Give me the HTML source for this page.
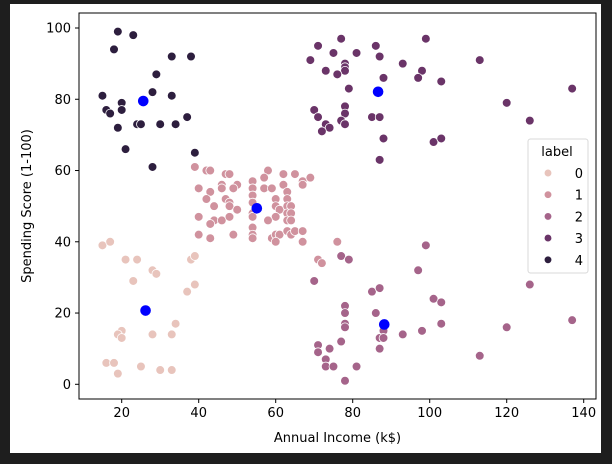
<!DOCTYPE html>
<html><head><meta charset="utf-8"><style>
html,body{margin:0;padding:0;background:#1e1e1e;}
#wrap{position:absolute;left:0;top:0;width:612px;height:459px;background:#1e1e1e;}
svg text{font-family:"DejaVu Sans","Liberation Sans",sans-serif;fill:#000;}
</style></head><body>
<div id="wrap">
<svg id="chart" width="612" height="459"></svg>
</div>
<script>
const incomes = [
/*4*/19,23,18,33,38,29,28,33,15,20,20,16,17,19,24,25,30,34,37,21,39,28,
/*0*/15,17,21,24,28,29,23,38,39,37,39,34,20,19,20,28,33,16,18,19,25,30,33,
/*3*/77,71,86,99,75,81,87,69,113,93,78,78,78,73,76,98,97,103,88,79,70,78,78,71,85,87,77,78,73,74,72,88,101,103,87,137,120,126,
/*2*/99,77,79,97,70,85,87,101,103,78,78,86,78,78,103,88,87,88,93,98,77,71,71,74,87,73,73,75,81,78,113,126,120,137,
/*1*/39,42,43,47,48,58,62,65,67,69,57,54,46,50,40,43,46,49,54,54,54,54,54,54,54,57,59,62,63,67,42,47,48,44,48,50,60,63,60,61,63,64,63,64,60,40,44,43,46,48,58,63,64,40,43,49,59,60,61,63,64,65,67,60,67,76,71,72,54];
const scores = [
99,98,94,92,92,87,82,81,81,79,77,77,76,72,73,73,73,73,75,66,65,61,
39,40,35,35,32,31,29,35,36,26,28,17,15,14,13,14,14,6,6,3,5,4,4,
97,95,95,97,93,93,92,91,91,90,90,89,88,88,87,88,86,85,86,83,77,78,76,75,75,75,74,73,73,72,71,69,68,69,63,83,79,74,
39,36,35,32,29,26,27,24,23,22,20,20,17,16,17,15,13,13,14,15,12,11,9,10,10,7,5,5,5,1,8,28,16,18,
61,60,60,59,59,60,59,59,57,58,58,57,56,56,55,54,55,55,55,53,51,48,47,44,42,55,55,56,54,56,52,52,51,50,50,49,52,52,50,49,50,50,48,48,47,47,46,45,46,47,46,46,46,42,41,42,41,42,42,43,42,43,43,40,40,40,35,34,41];
const labels = [
4,4,4,4,4,4,4,4,4,4,4,4,4,4,4,4,4,4,4,4,4,4,
0,0,0,0,0,0,0,0,0,0,0,0,0,0,0,0,0,0,0,0,0,0,0,
3,3,3,3,3,3,3,3,3,3,3,3,3,3,3,3,3,3,3,3,3,3,3,3,3,3,3,3,3,3,3,3,3,3,3,3,3,3,
2,2,2,2,2,2,2,2,2,2,2,2,2,2,2,2,2,2,2,2,2,2,2,2,2,2,2,2,2,2,2,2,2,2,
1,1,1,1,1,1,1,1,1,1,1,1,1,1,1,1,1,1,1,1,1,1,1,1,1,1,1,1,1,1,1,1,1,1,1,1,1,1,1,1,1,1,1,1,1,1,1,1,1,1,1,1,1,1,1,1,1,1,1,1,1,1,1,1,1,1,1,1,1];
const centroidIncome = [26.2,55.1,88.2,86.6,25.6];
const centroidScore = [20.7,49.4,16.8,82.1,79.5];
const xTicks = [20,40,60,80,100,120,140];
const yTicks = [0,20,40,60,80,100];
const legendLabels = ["0","1","2","3","4"];
const palette = ["#e8c4bc","#d0929e","#a5648a","#6a3468","#2d1e3e"];

const NS="http://www.w3.org/2000/svg";
const svg=document.getElementById('chart');
function el(t,a,p){const e=document.createElementNS(NS,t);for(const k in a)e.setAttribute(k,a[k]);(p||svg).appendChild(e);return e;}
const L=79,R=596,T=13,B=399;
function xs(v){return 121.7+(v-20)*3.85;}
function ys(v){return 384.3-v*3.563;}

const bg=el('rect',{x:10,y:4,width:591,height:449,fill:'#fff'});



const pts=el('g',{});


for(let i=0;i<incomes.length;i++){
  const c=el('circle',{cx:xs(incomes[i]),cy:ys(scores[i]),r:4.4,fill:palette[labels[i]],stroke:'#fff','stroke-width':0.8},pts);
  
  
}
for(let i=0;i<centroidIncome.length;i++){
  const c=el('circle',{cx:xs(centroidIncome[i]),cy:ys(centroidScore[i]),r:5.3,fill:'#0000ff'});
  
  
}
const frame=el('rect',{x:L,y:T,width:R-L,height:B-T,fill:'none',stroke:'#000','stroke-width':1});



xTicks.forEach(v=>{
  const x=xs(v);
  const tk=el('line',{x1:x,y1:B,x2:x,y2:B+4,stroke:'#000'});
  
  
  const t=el('text',{x:x,y:B+18,'font-size':13,'text-anchor':'middle'});
  t.textContent=v;
  
  
});
yTicks.forEach(v=>{
  const y=ys(v);
  const tk=el('line',{x1:L-4,y1:y,x2:L,y2:y,stroke:'#000'});
  
  
  const t=el('text',{x:L-8,y:y+4.5,'font-size':13,'text-anchor':'end'});
  t.textContent=v;
  
  
});
const xl=el('text',{x:(L+R)/2,y:442,'font-size':13,'text-anchor':'middle'});
xl.textContent='Annual Income (k$)';


const yl=el('text',{x:0,y:0,'font-size':13,'text-anchor':'middle',transform:'translate(31,206) rotate(-90)'});
yl.textContent='Spending Score (1-100)';



const lg=el('g',{});


el('rect',{x:528,y:139,width:60,height:134,rx:2.5,fill:'#fff','fill-opacity':0.85,stroke:'#d8d8d8'},lg);
const lt=el('text',{x:557,y:156,'font-size':13,'text-anchor':'middle'},lg);
lt.textContent='label';


legendLabels.forEach((s,i)=>{
  const y=173+i*21.7;
  const e=el('g',{},lg);
  
  
  el('circle',{cx:548,cy:y,r:3.8,fill:palette[i],stroke:'#fff','stroke-width':0.7},e);
  const t=el('text',{x:583,y:y+5,'font-size':13,'text-anchor':'end'},e);
  t.textContent=s;
});
</script>
</body></html>
